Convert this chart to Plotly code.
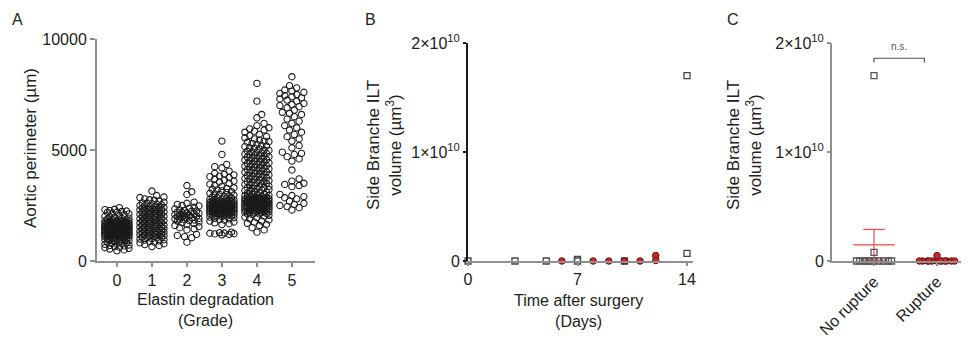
import numpy as np
import plotly.graph_objects as go

W, H = 969, 338
OFF = 8  # the html body margin shifts the figure by 8 px

FONT = "Arial, Liberation Sans, sans-serif"
TXT = "#222222"
AXIS_GREY = "#8f8f8f"
RED = "#d42424"

# Panel A: aortic perimeter (um) per elastin degradation grade
GRADES = [0, 1, 2, 3, 4, 5]
PERIM_G0 = [
    2400, 2330, 2310, 2280, 2250, 2230, 2200, 2190, 2150, 2120, 2080, 2050,
    2010, 1990, 1960, 1930, 1920, 1890, 1870, 1850, 1840, 1820, 1810, 1800,
    1790, 1770, 1760, 1750, 1740, 1720, 1710, 1700, 1690, 1680, 1670, 1660,
    1650, 1640, 1620, 1610, 1600, 1590, 1580, 1570, 1560, 1550, 1540, 1530,
    1520, 1510, 1500, 1490, 1480, 1470, 1460, 1450, 1440, 1430, 1420, 1410,
    1400, 1390, 1380, 1370, 1360, 1350, 1340, 1330, 1320, 1310, 1300, 1290,
    1280, 1270, 1260, 1250, 1240, 1230, 1220, 1210, 1200, 1190, 1180, 1170,
    1160, 1150, 1140, 1130, 1120, 1100, 1090, 1070, 1060, 1040, 1020, 1000,
    980, 960, 950, 930, 910, 890, 880, 860, 840, 820, 800, 790, 770, 750,
    720, 700, 680, 650, 620, 600, 570, 540, 500, 460,
    1765, 1735, 1705, 1675, 1645, 1615, 1585, 1555, 1525, 1495, 1465, 1435,
    1405, 1375, 1345, 1315, 1285, 1255, 1225, 1195, 1165, 1135, 1105, 1075,
    1045, 1015, 1690, 1630, 1570, 1510, 1450, 1390, 1330, 1270, 1210, 1150,
    1620, 1540, 1460, 1380, 1300, 1220, 1140, 1560, 1420, 1280,
]
PERIM_G1 = [
    3150, 2950, 2880, 2860, 2800, 2760, 2740, 2700, 2650, 2620, 2600, 2580,
    2560, 2530, 2500, 2480, 2460, 2440, 2420, 2390, 2370, 2350, 2320, 2300,
    2280, 2250, 2230, 2210, 2190, 2160, 2140, 2120, 2100, 2080, 2050, 2030,
    2010, 1990, 1970, 1950, 1920, 1900, 1880, 1860, 1840, 1820, 1790, 1770,
    1750, 1730, 1710, 1690, 1660, 1640, 1620, 1600, 1580, 1560, 1530, 1510,
    1490, 1470, 1450, 1430, 1410, 1380, 1360, 1340, 1320, 1300, 1280, 1260,
    1240, 1220, 1200, 1180, 1160, 1140, 1120, 1100, 1080, 1060, 1040, 1010,
    990, 960, 940, 910, 880, 850, 820, 780, 740, 700, 650,
    2410, 2330, 2260, 2170, 2090, 1980, 1890, 1800, 1700, 1610, 1540, 1460,
    1390, 1310, 1250, 1190, 1130, 1070,
]
PERIM_G2 = [
    3400, 3120, 3000, 2650, 2600, 2550, 2500, 2480, 2420, 2380, 2350, 2300,
    2280, 2250, 2200, 2180, 2150, 2120, 2100, 2080, 2050, 2020, 2000, 1980,
    1950, 1920, 1900, 1870, 1850, 1820, 1800, 1760, 1720, 1680, 1650, 1600,
    1550, 1500, 1450, 1400, 1200, 1150, 1100, 1050, 850,
    2240, 2160, 2060, 1960, 1880,
]
PERIM_G3 = [
    5400, 4800, 4350, 4250, 4200, 4050, 3950, 3900, 3880, 3820, 3800, 3760,
    3700, 3650, 3600, 3560, 3500, 3460, 3400, 3360, 3300, 3270, 3230, 3200,
    3160, 3120, 3080, 3050, 3020, 3000, 2970, 2940, 2910, 2880, 2860, 2840,
    2820, 2800, 2780, 2770, 2750, 2740, 2720, 2700, 2690, 2680, 2660, 2650,
    2630, 2620, 2600, 2590, 2580, 2560, 2550, 2540, 2520, 2510, 2500, 2490,
    2480, 2460, 2450, 2440, 2430, 2420, 2400, 2390, 2380, 2370, 2360, 2340,
    2330, 2320, 2310, 2300, 2290, 2280, 2260, 2250, 2240, 2230, 2220, 2200,
    2190, 2180, 2160, 2150, 2130, 2120, 2100, 2080, 2060, 2040, 2020, 2000,
    1980, 1950, 1920, 1900, 1870, 1840, 1800, 1760, 1720, 1680, 1640, 1300,
    1280, 1260, 1250, 1230, 1220, 1200, 1180,
    2710, 2675, 2645, 2615, 2585, 2555, 2525, 2495, 2465, 2435, 2405, 2375,
    2345, 2315, 2285, 2255, 2225, 2195, 2165, 2135, 2105, 2070, 2030, 2610,
    2530, 2470, 2410, 2350, 2270, 2210,
]
PERIM_G4 = [
    8000, 7200, 6600, 6450, 6200, 6100, 6000, 5950, 5900, 5850, 5800, 5700,
    5650, 5600, 5550, 5500, 5450, 5400, 5380, 5350, 5300, 5250, 5200, 5180,
    5150, 5100, 5080, 5050, 5000, 4980, 4950, 4920, 4900, 4870, 4850, 4820,
    4800, 4780, 4750, 4720, 4700, 4680, 4650, 4620, 4600, 4570, 4550, 4520,
    4500, 4480, 4450, 4420, 4400, 4380, 4350, 4320, 4300, 4270, 4250, 4220,
    4200, 4180, 4150, 4120, 4100, 4070, 4050, 4020, 4000, 3980, 3950, 3920,
    3900, 3880, 3850, 3820, 3800, 3770, 3750, 3720, 3700, 3680, 3650, 3620,
    3600, 3580, 3550, 3520, 3500, 3480, 3450, 3420, 3400, 3370, 3350, 3320,
    3300, 3270, 3250, 3220, 3200, 3180, 3150, 3120, 3100, 3070, 3050, 3020,
    3000, 2980, 2960, 2940, 2920, 2900, 2880, 2860, 2850, 2830, 2810, 2800,
    2790, 2770, 2760, 2740, 2730, 2710, 2700, 2690, 2670, 2660, 2640, 2630,
    2610, 2600, 2590, 2570, 2560, 2540, 2530, 2510, 2500, 2490, 2470, 2460,
    2440, 2430, 2410, 2400, 2390, 2370, 2360, 2340, 2330, 2310, 2300, 2280,
    2260, 2240, 2220, 2200, 2180, 2150, 2120, 2100, 2060, 2020, 1980, 1950,
    1900, 1850, 1800, 1750, 1700, 1650, 1600, 1500, 1400, 1300,
    2875, 2845, 2815, 2785, 2755, 2725, 2695, 2665, 2635, 2605, 2575, 2545,
    2515, 2485, 2455, 2425, 2395, 2365, 2335, 2305, 2275, 2245, 2215, 2190,
    2160, 2130, 2780, 2680, 2580, 2480, 2380, 2290,
]
PERIM_G5 = [
    8300, 7900, 7800, 7700, 7650, 7600, 7550, 7500, 7450, 7400, 7350, 7300,
    7250, 7200, 7100, 7050, 7000, 6950, 6900, 6800, 6700, 6650, 6600, 6500,
    6400, 6300, 6200, 6100, 6000, 5900, 5800, 5700, 5600, 5500, 5400, 5200,
    5100, 4900, 4850, 4800, 4700, 4600, 4500, 4100, 3700, 3600, 3500, 3450,
    3400, 3350, 3000, 2950, 2900, 2850, 2800, 2700, 2600, 2550, 2500, 2450,
    2400, 2300,
]
PERIM = [PERIM_G0, PERIM_G1, PERIM_G2, PERIM_G3, PERIM_G4, PERIM_G5]

# Panel B: side branch ILT volume (um^3) vs. days after surgery
DAYS_NORUP = [0, 3, 5, 7, 7, 10, 14, 14]
VOL_NORUP_B = [0, 0, 0, 0, 1.5e8, 0, 7e8, 1.7e10]
DAYS_RUP = [6, 8, 9, 10, 11, 12, 12]
VOL_RUP_B = [0, 0, 0, 0, 0, 5e8, 5e7]

# Panel C: side branch ILT volume by outcome
GROUPS_C = ["No rupture", "Rupture"]
VOL_NORUP_C = [1.7e10, 8e8, 0, 0, 0, 0, 0, 0, 0, 0, 0, 0]
VOL_RUP_C = [5e8, 0, 0, 0, 0, 0, 0, 0, 0, 0, 0, 0, 0]


def px(x):
    return (x - OFF) / W


def py(y):
    return 1 - (y - OFF) / H


def swarm(values, center, ux, uy, diam, half_width, reverse=False):
    """Beeswarm: put each point as near the centre as it fits (pixel units)."""
    step = diam / 2.5
    cands = [0.0]
    k = 1
    while k * step <= half_width:
        cands += [-k * step, k * step] if reverse else [k * step, -k * step]
        k += 1
    placed, xs, ys = [], [], []
    for v in sorted(values):
        y = v * uy
        near = [(a, b) for a, b in placed if abs(b - y) < diam]
        best, best_d = 0.0, -1.0
        for c in cands:
            dmin = min((np.hypot(c - a, y - b) for a, b in near), default=1e9)
            if dmin >= diam * 0.9:
                best = c
                break
            if dmin > best_d:
                best, best_d = c, dmin
        placed.append((best, y))
        xs.append(center + best / ux)
        ys.append(v)
    return xs, ys


fig = go.Figure()

# --- Panel A (35 px per grade, 222 px per 10000 um)
for g, vals in zip(GRADES, PERIM):
    xs, ys = swarm(vals, g, 35, 222 / 10000, 6, 14)
    fig.add_trace(go.Scatter(
        x=xs, y=ys, mode="markers", xaxis="x", yaxis="y", cliponaxis=False,
        marker=dict(symbol="circle", size=6.3, color="rgba(0,0,0,0)",
                    line=dict(color="#1a1a1a", width=1.1)),
        showlegend=False,
    ))

# --- Panel B
fig.add_trace(go.Scatter(
    x=DAYS_NORUP, y=VOL_NORUP_B, mode="markers", xaxis="x2", yaxis="y2",
    cliponaxis=False,
    marker=dict(symbol="square", size=6, color="rgba(0,0,0,0)",
                line=dict(color="#444444", width=1.3)),
    showlegend=False,
))
fig.add_trace(go.Scatter(
    x=DAYS_RUP, y=VOL_RUP_B, mode="markers", xaxis="x2", yaxis="y2",
    cliponaxis=False,
    marker=dict(symbol="circle", size=6.5, color=RED,
                line=dict(color="#5a1515", width=1)),
    showlegend=False,
))

# --- Panel C (63 px per group, 218 px per 2e10)
for i, (vals, grp) in enumerate(zip([VOL_NORUP_C, VOL_RUP_C], GROUPS_C)):
    arr = np.array(vals, dtype=float)
    mean = arr.mean()
    sem = arr.std(ddof=1) / np.sqrt(len(arr))
    lo = max(mean - sem, 0)
    fig.add_trace(go.Scatter(
        x=[i - 0.33, i + 0.33, None, i, i, None, i - 0.17, i + 0.17, None,
           i - 0.17, i + 0.17],
        y=[mean, mean, None, lo, mean + sem, None,
           mean + sem, mean + sem, None, lo, lo],
        mode="lines", xaxis="x3", yaxis="y3", cliponaxis=False,
        line=dict(color="#e84a4a", width=1.2), showlegend=False,
    ))
    xs, ys = swarm(vals, i, 63, 218 / 2e10, 4, 18, reverse=(i == 0))
    if i == 0:
        marker = dict(symbol="square", size=6, color="rgba(0,0,0,0)",
                      line=dict(color="#555555", width=1.3))
    else:
        marker = dict(symbol="circle", size=6.5, color=RED,
                      line=dict(color="#5a1515", width=1))
    fig.add_trace(go.Scatter(
        x=xs, y=ys, mode="markers", xaxis="x3", yaxis="y3", cliponaxis=False,
        marker=marker, showlegend=False,
    ))

axis_common = dict(
    showgrid=False, zeroline=False, showline=True, linewidth=2,
    ticks="outside", ticklen=5, tickwidth=1.5, automargin=False,
    tickfont=dict(family=FONT, size=16, color=TXT),
)

b_days_end = 14 * (693 - 468) / (687 - 468)
sci_ticks = ["0", "1×10<sup>10</sup>", "2×10<sup>10</sup>"]

fig.update_layout(
    width=W, height=H, margin=dict(l=0, r=0, t=0, b=0),
    paper_bgcolor="white", plot_bgcolor="white", template="none",
    font=dict(family=FONT, size=16, color=TXT),
    xaxis=dict(axis_common, domain=[px(97), px(315)], range=[-0.57, 5.66],
               tickvals=GRADES, ticklen=4, linecolor=AXIS_GREY,
               tickcolor=AXIS_GREY, anchor="y"),
    yaxis=dict(axis_common, domain=[py(261), py(39)], range=[0, 10000],
               tickvals=[0, 5000, 10000], tickformat="d",
               linecolor=AXIS_GREY, tickcolor=AXIS_GREY, anchor="x"),
    xaxis2=dict(axis_common, domain=[px(468), px(693)], range=[0, b_days_end],
                tickvals=[0, 7, 14], ticklen=3, linecolor=AXIS_GREY,
                tickcolor=AXIS_GREY, anchor="y2"),
    yaxis2=dict(axis_common, domain=[py(261), py(43)], range=[0, 2e10],
                tickvals=[0, 1e10, 2e10], ticklen=3, ticktext=sci_ticks,
                linecolor="#1a1a1a", tickcolor="#1a1a1a", anchor="x2"),
    xaxis3=dict(axis_common, domain=[px(832), px(969)], range=[-0.667, 1.508],
                tickvals=[0, 1], ticktext=GROUPS_C, tickangle=-45, ticklen=3,
                linecolor=AXIS_GREY, tickcolor=AXIS_GREY, anchor="y3"),
    yaxis3=dict(axis_common, domain=[py(261), py(43)], range=[0, 2e10],
                tickvals=[0, 1e10, 2e10], ticklen=3, ticktext=sci_ticks,
                linecolor=AXIS_GREY, tickcolor=AXIS_GREY, anchor="x3"),
)

# significance bracket in panel C
fig.add_shape(type="path", xref="x3", yref="y3",
              path="M 0,1.82e10 L 0,1.86e10 L 0.8,1.86e10 L 0.8,1.82e10",
              line=dict(color="#555555", width=1.2))

annotations = [
    dict(text="A", x=px(17), y=py(20), font_size=16),
    dict(text="B", x=px(370), y=py(20), font_size=16),
    dict(text="C", x=px(733), y=py(20), font_size=16),
    dict(text="Elastin degradation<br>(Grade)", x=px(205), y=py(310),
         font_size=16),
    dict(text="Time after surgery<br>(Days)", x=px(578), y=py(311),
         font_size=16),
    dict(text="Aortic perimeter (µm)", x=px(30), y=py(148), textangle=-90,
         font_size=17),
    dict(text="Side Branche ILT<br>volume (µm<sup>3</sup>)", x=px(384),
         y=py(145), textangle=-90, font_size=17),
    dict(text="Side Branche ILT<br>volume (µm<sup>3</sup>)", x=px(744),
         y=py(145), textangle=-90, font_size=17),
    dict(text="n.s.", x=0.4, y=1.97e10, xref="x3", yref="y3",
         font=dict(size=10, color="#555555")),
]
for a in annotations:
    a.setdefault("xref", "paper")
    a.setdefault("yref", "paper")
    a.setdefault("showarrow", False)
    a.setdefault("xanchor", "center")
    a.setdefault("yanchor", "middle")
    fig.add_annotation(**a)

fig.write_html("out.html")
